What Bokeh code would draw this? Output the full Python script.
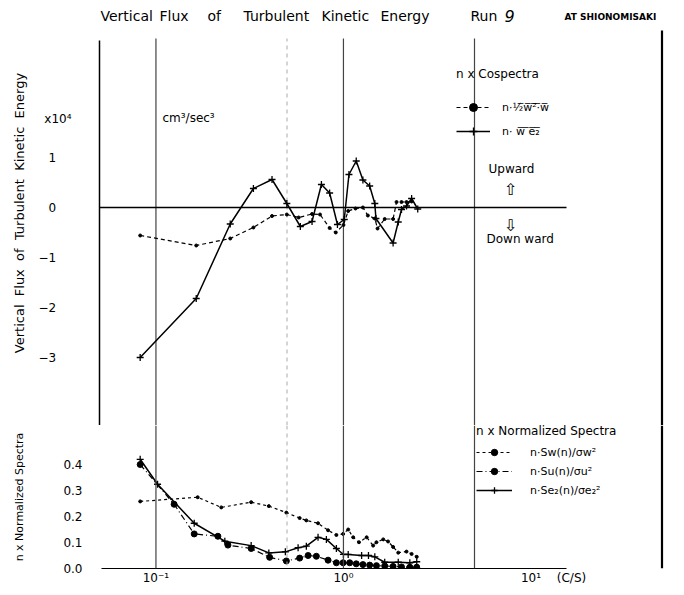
from bokeh.plotting import figure
from bokeh.models import Range1d, Span, Label, Legend, LegendItem, FixedTicker
from bokeh.layouts import column
from bokeh.embed import file_html
from bokeh.resources import INLINE

# ---------------- data ----------------
# upper panel: n x cospectra (x 10^4 cm^3/sec^3)
tke_f = [0.0824, 0.164, 0.249, 0.331, 0.416, 0.499, 0.577, 0.68, 0.75, 0.844, 0.91, 1.0,
         1.06, 1.16, 1.27, 1.35, 1.47, 1.52, 1.66, 1.84, 1.92, 2.04, 2.17, 2.31]
tke_v = [-0.56, -0.76, -0.62, -0.4, -0.17, -0.14, -0.2, -0.13, -0.14, -0.41, -0.5, -0.35,
         -0.07, -0.02, 0.0, -0.16, -0.22, -0.42, -0.23, -0.23, 0.11, 0.11, 0.11, 0.12]
we_f = [0.0824, 0.164, 0.249, 0.331, 0.416, 0.499, 0.589, 0.68, 0.763, 0.844, 0.929, 1.01,
        1.07, 1.17, 1.27, 1.38, 1.47, 1.49, 1.84, 1.96, 2.04, 2.17, 2.31, 2.49]
we_v = [-3.0, -1.82, -0.33, 0.38, 0.56, 0.08, -0.38, -0.28, 0.46, 0.29, -0.34, -0.24,
        0.66, 0.93, 0.55, 0.43, 0.08, -0.22, -0.71, -0.29, -0.04, 0.03, 0.18, -0.03]

# lower panel: n x normalized spectra
sw_f = [0.0824, 0.167, 0.223, 0.322, 0.40, 0.496, 0.584, 0.634, 0.732, 0.828, 0.917, 0.996,
        1.06, 1.127, 1.21, 1.33, 1.44, 1.50, 1.63, 1.73, 1.84, 1.96, 2.17, 2.31, 2.46]
sw_v = [0.258, 0.274, 0.235, 0.255, 0.24, 0.215, 0.194, 0.185, 0.174, 0.147, 0.129, 0.133,
        0.15, 0.12, 0.101, 0.12, 0.088, 0.101, 0.112, 0.104, 0.083, 0.061, 0.065, 0.056, 0.045]
su_f = [0.0824, 0.125, 0.160, 0.214, 0.242, 0.322, 0.404, 0.496, 0.584, 0.648, 0.717, 0.828,
        0.917, 0.996, 1.08, 1.17, 1.27, 1.38, 1.50, 1.66, 1.84, 2.04, 2.26, 2.46]
su_v = [0.40, 0.247, 0.133, 0.124, 0.09, 0.077, 0.043, 0.029, 0.04, 0.05, 0.047, 0.032,
        0.022, 0.022, 0.022, 0.018, 0.015, 0.013, 0.011, 0.01, 0.008, 0.006, 0.005, 0.005]
se_f = [0.0824, 0.102, 0.160, 0.233, 0.322, 0.40, 0.49, 0.573, 0.634, 0.732, 0.811, 0.917,
        1.0, 1.06, 1.25, 1.36, 1.47, 1.66, 1.96, 2.26, 2.46]
se_v = [0.42, 0.324, 0.174, 0.105, 0.088, 0.06, 0.064, 0.08, 0.086, 0.12, 0.112, 0.077,
        0.054, 0.054, 0.05, 0.05, 0.045, 0.024, 0.024, 0.022, 0.026]

NB = "\u00a0"
up_ticks = [-3, -2, -1, 0, 1]
up_tick_labels = {-3: "\u22123", -2: "\u22122", -1: "\u22121", 0: "0", 1: "1"}
lo_ticks = [0.0, 0.1, 0.2, 0.3, 0.4]
lo_tick_labels = {0.0: "0.0", 0.1: "0.1", 0.2: "0.2", 0.3: "0.3", 0.4: "0.4"}
x_ticks = [0.1, 1, 10]
x_tick_labels = {0.1: "10\u207b\u00b9", 1: "10\u2070", 10: "10\u00b9"}
ref_lines = [0.1, 0.5, 1.0, 5.0, 50.0]
title_words = ["Vertical", "Flux", "of", "Turbulent", "Kinetic", "Energy"]

FONT = "DejaVu Sans"
FRAME_W = 569
BORDER_L = 99
X0 = 0.05
X1 = X0 * 10 ** (FRAME_W / 187.5)


def fx(px):
    # page-pixel -> frequency (log axis, 187.5 px per decade, frame left at 98)
    return X0 * 10 ** ((px - 98) / 187.5)


def fy_up(py):
    return (207 - py) / 50.0


def fy_lo(py):
    return (568 - py) / 260.0


UP_TOP, UP_BOT = fy_up(0), fy_up(425)
LINE_TOP = fy_up(38)

# ---------------- upper figure ----------------
up = figure(x_axis_type="log", x_range=Range1d(X0, X1), y_range=Range1d(UP_BOT, UP_TOP),
            frame_width=FRAME_W, frame_height=425, min_border_left=BORDER_L, min_border_right=0,
            min_border_top=0, min_border_bottom=0, x_axis_location=None,
            output_backend="svg", toolbar_location=None)
up.outline_line_color = None
up.grid.visible = False

for loc in ref_lines:
    if loc == 0.5:
        up.segment(x0=[loc], y0=[UP_BOT], x1=[loc], y1=[LINE_TOP], line_color="#aaaaaa",
                   line_width=1, line_dash="4 4")
    elif loc == 50.0:
        up.segment(x0=[loc], y0=[UP_BOT], x1=[loc], y1=[fy_up(30)], line_color="black",
                   line_width=2.2)
    else:
        up.segment(x0=[loc], y0=[UP_BOT], x1=[loc], y1=[LINE_TOP], line_color="#444444",
                   line_width=1.2)

x10_tick = fy_up(118)
ya = up.yaxis[0]
ya.ticker = FixedTicker(ticks=up_ticks + [x10_tick])
ya.major_label_overrides = {**{k: v + NB * 4 for k, v in up_tick_labels.items()},
                            x10_tick: "x10\u2074"}
ya.bounds = (UP_BOT, fy_up(40))
ya.major_tick_in = 0
ya.major_tick_out = 0
ya.minor_tick_in = 0
ya.minor_tick_out = 0
ya.major_label_standoff = 28
ya.major_label_text_font = FONT
ya.major_label_text_font_size = "12px"
ya.major_label_text_color = "black"
ya.axis_line_color = "black"
ya.axis_line_width = 1.5
ya.axis_label = (NB * 2).join(title_words)
ya.axis_label_text_font = FONT
ya.axis_label_text_font_size = "13px"
ya.axis_label_text_font_style = "normal"
ya.axis_label_text_color = "black"
ya.axis_label_standoff = 9

up.segment(x0=[X0], y0=[0], x1=[fx(565)], y1=[0], line_color="black", line_width=1.5)

l_tke = up.line(tke_f, tke_v, line_color="black", line_width=1.2, line_dash="4 3")
s_tke = up.scatter(tke_f, tke_v, marker="circle", size=3, color="black")
l_we = up.line(we_f, we_v, line_color="black", line_width=1.5)
s_we = up.scatter(we_f, we_v, marker="cross", size=7, line_color="black", line_width=1.3)

leg_up = Legend(items=[
    LegendItem(label="n\u00b7\u00bd\u0305w\u0305\u00b2\u0305\u00b7\u0305w\u0305", renderers=[l_tke, s_tke]),
    LegendItem(label="n\u00b7 w\u0305 \u0305e\u0305\u2082\u0305", renderers=[l_we, s_we]),
], title="n x Cospectra", location=(357, 284), orientation="vertical")
leg_up.title_text_font = FONT
leg_up.title_text_font_size = "12px"
leg_up.title_text_font_style = "normal"
leg_up.title_text_color = "black"
leg_up.title_standoff = 16
leg_up.label_text_font = FONT
leg_up.label_text_font_size = "11px"
leg_up.label_text_color = "black"
leg_up.glyph_width = 34
leg_up.glyph_height = 20
leg_up.label_height = 20
leg_up.label_standoff = 12
leg_up.spacing = 4
leg_up.padding = 0
leg_up.margin = 0
leg_up.border_line_color = None
leg_up.background_fill_alpha = 0
up.add_layout(leg_up)

txt = dict(text_font=FONT, text_color="black")
title_x = [99, 158, 206, 242, 320, 379]
for word, px in zip(title_words, title_x):
    up.add_layout(Label(x=fx(px), y=fy_up(15), text=word, text_font_size="14px",
                        text_baseline="middle", **txt))
up.add_layout(Label(x=fx(469), y=fy_up(15), text="Run", text_font_size="14px",
                    text_baseline="middle", **txt))
up.add_layout(Label(x=fx(503), y=fy_up(15), text="9", text_font_size="16px",
                    text_font_style="italic", text_baseline="middle", **txt))
up.add_layout(Label(x=fx(563), y=fy_up(16), text="AT SHIONOMISAKI", text_font_size="9px",
                    text_font_style="bold", text_baseline="middle", **txt))
up.add_layout(Label(x=fx(161), y=fy_up(117), text="cm\u00b3/sec\u00b3", text_font_size="12px",
                    text_baseline="middle", **txt))
up.add_layout(Label(x=fx(487), y=fy_up(168), text="Upward", text_font_size="12px",
                    text_baseline="middle", **txt))
up.add_layout(Label(x=fx(509), y=fy_up(189), text="\u21e7", text_font_size="16px",
                    text_baseline="middle", text_align="center", **txt))
up.add_layout(Label(x=fx(509), y=fy_up(225), text="\u21e9", text_font_size="16px",
                    text_baseline="middle", text_align="center", **txt))
up.add_layout(Label(x=fx(485), y=fy_up(238), text="Down ward", text_font_size="12px",
                    text_baseline="middle", **txt))

# ---------------- lower figure ----------------
lo = figure(x_axis_type="log", x_range=up.x_range, y_range=Range1d(0, fy_lo(425)),
            frame_width=FRAME_W, frame_height=143, min_border_left=BORDER_L, min_border_right=0,
            min_border_top=0, min_border_bottom=19,
            output_backend="svg", toolbar_location=None)
lo.outline_line_color = None
lo.grid.visible = False
for loc in ref_lines:
    if loc == 0.5:
        lo.add_layout(Span(location=loc, dimension="height", line_color="#aaaaaa",
                           line_width=1, line_dash="4 4"))
    elif loc == 50.0:
        lo.add_layout(Span(location=loc, dimension="height", line_color="black",
                           line_width=2.2))
    else:
        lo.add_layout(Span(location=loc, dimension="height", line_color="#444444",
                           line_width=1.2))

cs_tick = fx(570)
xa = lo.xaxis[0]
xa.ticker = FixedTicker(ticks=x_ticks + [cs_tick])
xa.major_label_overrides = {**x_tick_labels, cs_tick: "(C/S)"}
xa.bounds = (fx(100), fx(565))
xa.major_tick_in = 0
xa.major_tick_out = 0
xa.minor_tick_in = 0
xa.minor_tick_out = 0
xa.major_label_standoff = 2
xa.major_label_text_font = FONT
xa.major_label_text_font_size = "12px"
xa.major_label_text_color = "black"
xa.axis_line_color = "black"
xa.axis_line_width = 1.2

la = lo.yaxis[0]
la.ticker = FixedTicker(ticks=lo_ticks)
la.major_label_overrides = lo_tick_labels
la.major_tick_in = 0
la.major_tick_out = 0
la.minor_tick_in = 0
la.minor_tick_out = 0
la.major_label_standoff = 17
la.major_label_text_font = FONT
la.major_label_text_font_size = "12px"
la.major_label_text_color = "black"
la.axis_line_color = None
la.axis_label = "n x Normalized Spectra"
la.axis_label_text_font = FONT
la.axis_label_text_font_size = "11px"
la.axis_label_text_font_style = "normal"
la.axis_label_text_color = "black"
la.axis_label_standoff = 34

l_sw = lo.line(sw_f, sw_v, line_color="black", line_width=1.2, line_dash="3 3")
s_sw = lo.scatter(sw_f, sw_v, marker="circle", size=3, color="black")
l_su = lo.line(su_f, su_v, line_color="black", line_width=1.2, line_dash="6 3 1 3")
s_su = lo.scatter(su_f, su_v, marker="circle", size=6, color="black")
l_se = lo.line(se_f, se_v, line_color="black", line_width=1.5)
s_se = lo.scatter(se_f, se_v, marker="cross", size=7, line_color="black", line_width=1.3)

leg_lo = Legend(items=[
    LegendItem(label="n\u00b7Sw(n)/\u03c3w\u00b2", renderers=[l_sw, s_sw]),
    LegendItem(label="n\u00b7Su(n)/\u03c3u\u00b2", renderers=[l_su, s_su]),
    LegendItem(label="n\u00b7Se\u2082(n)/\u03c3e\u2082\u00b2", renderers=[l_se, s_se]),
], title="n x Normalized Spectra", location=(377, 70), orientation="vertical")
leg_lo.title_text_font = FONT
leg_lo.title_text_font_size = "12px"
leg_lo.title_text_font_style = "normal"
leg_lo.title_text_color = "black"
leg_lo.title_standoff = 6
leg_lo.label_text_font = FONT
leg_lo.label_text_font_size = "11px"
leg_lo.label_text_color = "black"
leg_lo.glyph_width = 36
leg_lo.glyph_height = 16
leg_lo.label_height = 16
leg_lo.label_standoff = 18
leg_lo.spacing = 3
leg_lo.padding = 0
leg_lo.margin = 0
leg_lo.border_line_color = None
leg_lo.background_fill_alpha = 0
lo.add_layout(leg_lo)

layout = column(up, lo, spacing=0)
open("out.html", "w").write(file_html(layout, INLINE))
